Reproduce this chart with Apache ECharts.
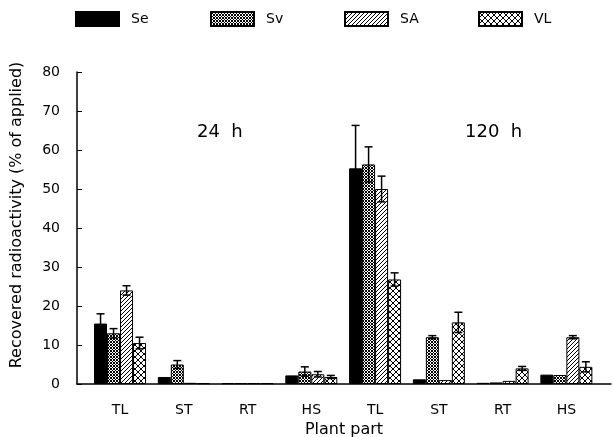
<!DOCTYPE html>
<html>
<head>
<meta charset="utf-8">
<script src="https://cdn.jsdelivr.net/npm/echarts@6/dist/echarts.min.js"></script>
<style>
  html, body { margin: 0; padding: 0; background: #fff; }
  #chart { width: 613px; height: 437px; }
</style>
</head>
<body>
<div id="chart"></div>
<script>
// plant parts, first four = 24 h, last four = 120 h
var parts = ['TL', 'ST', 'RT', 'HS', 'TL', 'ST', 'RT', 'HS'];
var yTicks = [0, 10, 20, 30, 40, 50, 60, 70, 80];

var seVals = [15.5, 1.8, 0.2, 2.2, 55.3, 1.2, 0.3, 2.4];
var seErr  = [2.5, 0, 0, 0, 11.0, 0, 0, 0];
var svVals = [13.0, 5.0, 0.2, 3.2, 56.3, 12.0, 0.4, 2.3];
var svErr  = [1.2, 1.0, 0, 1.2, 4.5, 0.4, 0, 0];
var saVals = [24.0, 0.3, 0.2, 2.5, 50.0, 1.0, 0.8, 12.0];
var saErr  = [1.2, 0, 0, 0.7, 3.3, 0, 0, 0.4];
var vlVals = [10.5, 0.2, 0.2, 1.8, 26.8, 15.8, 4.0, 4.4];
var vlErr  = [1.5, 0, 0, 0.4, 1.7, 2.6, 0.5, 1.3];

var FONT = 'DejaVu Sans';
var BAR_W = 13;

function makePattern(size, draw) {
  var c = document.createElement('canvas');
  c.width = size; c.height = size;
  var ctx = c.getContext('2d');
  ctx.fillStyle = '#fff';
  ctx.fillRect(0, 0, size, size);
  ctx.fillStyle = '#000';
  ctx.strokeStyle = '#000';
  draw(ctx);
  return { image: c, repeat: 'repeat' };
}

// Sv: dense dark stipple
var svFill = makePattern(3, function (ctx) {
  ctx.fillRect(0, 0, 1, 1); ctx.fillRect(1, 1, 1, 1); ctx.fillRect(2, 2, 1, 1);
  ctx.fillRect(2, 0, 1, 1); ctx.fillRect(0, 2, 1, 1);
});
// SA: diagonal hatch
var saFill = makePattern(4, function (ctx) {
  ctx.fillRect(0, 3, 1, 1); ctx.fillRect(1, 2, 1, 1);
  ctx.fillRect(2, 1, 1, 1); ctx.fillRect(3, 0, 1, 1);
});
// VL: cross hatch
var vlFill = makePattern(6, function (ctx) {
  ctx.lineWidth = 1;
  ctx.beginPath();
  ctx.moveTo(0, 0); ctx.lineTo(6, 6);
  ctx.moveTo(6, 0); ctx.lineTo(0, 6);
  ctx.stroke();
});

function pairs(vals) {
  return vals.map(function (v, i) { return [i, v]; });
}

function barSeries(name, vals, fill) {
  return {
    name: name,
    type: 'bar',
    data: pairs(vals),
    barWidth: BAR_W,
    barGap: '0%',
    itemStyle: { color: fill, borderColor: '#000', borderWidth: 1 },
    silent: true
  };
}

var allVals = [seVals, svVals, saVals, vlVals];
var allErr = [seErr, svErr, saErr, vlErr];
var errData = [];
for (var k = 0; k < 4; k++) {
  for (var i = 0; i < parts.length; i++) {
    if (allErr[k][i] > 0) errData.push([i, allVals[k][i], allErr[k][i], k]);
  }
}

var chart = echarts.init(document.getElementById('chart'));
var axisLabelStyle = { color: '#000', fontFamily: FONT, fontSize: 14 };
var axisNameStyle = { color: '#000', fontFamily: FONT, fontSize: 16 };

function legendAt(name, left) {
  return {
    data: [name],
    left: left,
    top: 6,
    itemWidth: 43,
    itemHeight: 14,
    icon: 'rect',
    selectedMode: false,
    textStyle: { color: '#000', fontFamily: FONT, fontSize: 14, padding: [0, 0, 0, 7] }
  };
}

chart.setOption({
  animation: false,
  backgroundColor: '#fff',
  legend: [
    legendAt('Se', 70),
    legendAt('Sv', 205),
    legendAt('SA', 339),
    legendAt('VL', 473)
  ],
  grid: { left: 77, right: 2, top: 72, bottom: 53, outerBoundsMode: 'none' },
  xAxis: {
    type: 'value',
    min: -0.675,
    max: 7.70,
    name: 'Plant part',
    nameLocation: 'middle',
    nameGap: 36,
    nameTextStyle: axisNameStyle,
    axisLine: { onZero: false, lineStyle: { color: '#000', width: 1.5 } },
    axisTick: { show: false },
    splitLine: { show: false },
    axisLabel: Object.assign({
      margin: 19,
      customValues: parts.map(function (p, i) { return i; }),
      formatter: function (v) { return parts[Math.round(v)]; }
    }, axisLabelStyle)
  },
  yAxis: {
    type: 'value',
    min: 0,
    max: 80,
    interval: 10,
    name: 'Recovered radioactivity (% of applied)',
    nameLocation: 'middle',
    nameGap: 52,
    nameTextStyle: Object.assign({ padding: [0, 0, 0, 26] }, axisNameStyle),
    axisLine: { show: true, onZero: false, lineStyle: { color: '#000', width: 1.5 } },
    axisTick: { show: true, inside: true, length: 5, lineStyle: { color: '#000' } },
    splitLine: { show: false },
    axisLabel: Object.assign({
      margin: 17,
      formatter: function (v) { return yTicks.indexOf(v) >= 0 ? String(v) : ''; }
    }, axisLabelStyle)
  },
  graphic: [
    { type: 'text', left: 197, top: 123, style: { text: '24  h', font: '18px "' + FONT + '"', fill: '#000' } },
    { type: 'text', left: 465, top: 123, style: { text: '120  h', font: '18px "' + FONT + '"', fill: '#000' } }
  ],
  series: [
    barSeries('Se', seVals, '#000'),
    barSeries('Sv', svVals, svFill),
    barSeries('SA', saVals, saFill),
    barSeries('VL', vlVals, vlFill),
    {
      type: 'custom',
      silent: true,
      z: 5,
      data: errData,
      encode: { x: 0, y: 1 },
      renderItem: function (params, api) {
        var x = api.value(0), y = api.value(1), e = api.value(2), k = api.value(3);
        var off = (k - 1.5) * BAR_W;
        var top = api.coord([x, y + e]);
        var bot = api.coord([x, Math.max(0, y - e)]);
        var cx = top[0] + off;
        var cap = 4;
        var st = { stroke: '#000', lineWidth: 1.5 };
        return {
          type: 'group',
          children: [
            { type: 'line', shape: { x1: cx, y1: top[1], x2: cx, y2: bot[1] }, style: st },
            { type: 'line', shape: { x1: cx - cap, y1: top[1], x2: cx + cap, y2: top[1] }, style: st },
            { type: 'line', shape: { x1: cx - cap, y1: bot[1], x2: cx + cap, y2: bot[1] }, style: st }
          ]
        };
      }
    }
  ]
});
</script>
</body>
</html>
